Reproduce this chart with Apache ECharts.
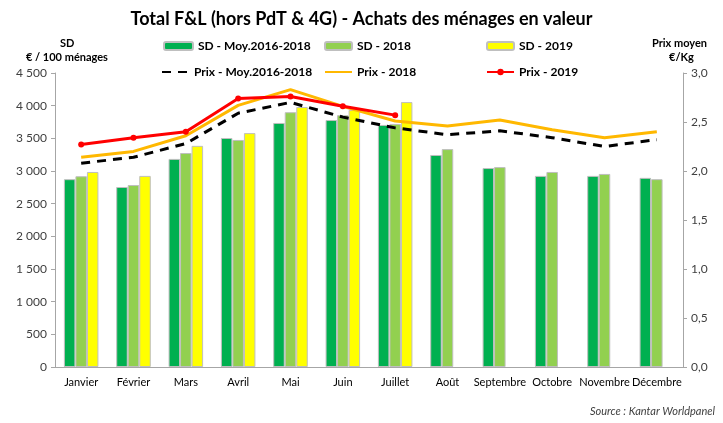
<!DOCTYPE html>
<html lang="fr">
<head>
  <meta charset="UTF-8">
  <title>Total F&L - Achats des ménages en valeur</title>
  <script src="https://cdn.jsdelivr.net/npm/echarts@6/dist/echarts.min.js"></script>
  <style>
    html, body { margin: 0; padding: 0; background: #fff; }
    #main { width: 723px; height: 423px; }
  </style>
</head>
<body>
  <div id="main"></div>
  <script>
    // données
    var mois = ["Janvier", "Février", "Mars", "Avril", "Mai", "Juin", "Juillet",
                "Août", "Septembre", "Octobre", "Novembre", "Décembre"];
    var sdMoy = [2875, 2755, 3185, 3505, 3735, 3780, 3705, 3245, 3045, 2925, 2925, 2895];
    var sd2018 = [2920, 2785, 3275, 3475, 3900, 3855, 3720, 3335, 3060, 2985, 2955, 2875];
    var sd2019 = [2985, 2925, 3385, 3580, 3980, 3935, 4055, null, null, null, null, null];
    var prixMoy = [2.08, 2.14, 2.28, 2.59, 2.70, 2.55, 2.44, 2.37, 2.41, 2.34, 2.25, 2.32];
    var prix2018 = [2.14, 2.20, 2.36, 2.67, 2.83, 2.66, 2.51, 2.46, 2.52, 2.42, 2.34, 2.40];
    var prix2019 = [2.27, 2.34, 2.40, 2.74, 2.76, 2.66, 2.57, null, null, null, null, null];
    var ticksSD = [0, 500, 1000, 1500, 2000, 2500, 3000, 3500, 4000, 4500];
    var ticksPrix = [0, 0.5, 1.0, 1.5, 2.0, 2.5, 3.0];

    var police = "Lato, 'Open Sans', sans-serif";
    var gris = "#A6A6A6";

    function fmtSD(v) {
      if (v < 1000) return String(v);
      var r = String(v % 1000);
      while (r.length < 3) r = "0" + r;
      return Math.floor(v / 1000) + " " + r;
    }
    function fmtPrix(v) { return v.toFixed(1).replace(".", ","); }

    // une légende par entrée pour garder les colonnes alignées
    function legende(nom, x, y, w, h, sansPoint) {
      var item = sansPoint ? { name: nom, itemStyle: { opacity: 0 } } : nom;
      return {
        data: [item], left: x, top: y, itemWidth: w, itemHeight: h,
        selectedMode: false, padding: 0,
        textStyle: { fontFamily: police, fontWeight: "bold", fontSize: 12, color: "#000" }
      };
    }

    var chart = echarts.init(document.getElementById("main"));
    var option = {
      animation: false,
      textStyle: { fontFamily: police },
      title: {
        text: "Total F&L (hors PdT & 4G) - Achats des ménages en valeur",
        left: "center", top: 5,
        textStyle: { fontFamily: police, fontWeight: "bold", fontSize: 18, color: "#000" }
      },
      legend: [
        legende("SD - Moy.2016-2018", 163, 40, 29, 8),
        legende("SD - 2018", 324, 40, 27, 8),
        legende("SD - 2019", 486, 40, 27, 8),
        legende("Prix - Moy.2016-2018", 161, 66, 27, 8, true),
        legende("Prix - 2018", 324, 66, 27, 8, true),
        legende("Prix - 2019", 486, 66, 27, 8)
      ],
      graphic: [
        { type: "text", left: 60, top: 38, style: { text: "SD", font: "bold 11px " + police, fill: "#000" } },
        { type: "text", left: 26, top: 52, style: { text: "€ / 100 ménages", font: "bold 11px " + police, fill: "#000" } },
        { type: "text", left: 652, top: 38, style: { text: "Prix moyen", font: "bold 11px " + police, fill: "#000" } },
        { type: "text", left: 669, top: 52, style: { text: "€/Kg", font: "bold 11px " + police, fill: "#000" } },
        { type: "text", right: 8, top: 406, style: { text: "Source : Kantar Worldpanel", font: "italic 11px " + police, fill: "#404040" } }
      ],
      grid: { left: 55, right: 40, top: 73, bottom: 56 },
      xAxis: {
        type: "category",
        data: mois,
        axisLine: { lineStyle: { color: gris } },
        axisTick: { length: 5, lineStyle: { color: gris } },
        axisLabel: { interval: 0, margin: 10, fontSize: 11, color: "#000", fontFamily: police }
      },
      yAxis: [
        {
          type: "value", min: ticksSD[0], max: ticksSD[ticksSD.length - 1], interval: 500,
          axisLine: { show: true, lineStyle: { color: gris } },
          axisTick: { show: true, length: 4, lineStyle: { color: gris } },
          splitLine: { show: false },
          axisLabel: { formatter: fmtSD, fontSize: 12, color: "#404040", margin: 8, fontFamily: police }
        },
        {
          type: "value", min: ticksPrix[0], max: ticksPrix[ticksPrix.length - 1], interval: 0.5,
          position: "right",
          axisLine: { show: true, lineStyle: { color: gris } },
          axisTick: { show: true, length: 4, lineStyle: { color: gris } },
          splitLine: { show: false },
          axisLabel: { formatter: fmtPrix, fontSize: 12, color: "#404040", margin: 8, fontFamily: police }
        }
      ],
      series: [
        {
          name: "SD - Moy.2016-2018", type: "bar", data: sdMoy, barGap: "0%", barCategoryGap: "34%",
          itemStyle: { color: "#00B050", borderColor: "#BFBFBF", borderWidth: 1 }
        },
        {
          name: "SD - 2018", type: "bar", data: sd2018,
          itemStyle: { color: "#92D050", borderColor: "#BFBFBF", borderWidth: 1 }
        },
        {
          name: "SD - 2019", type: "bar", data: sd2019,
          itemStyle: { color: "#FFFF00", borderColor: "#BFBFBF", borderWidth: 1 }
        },
        {
          name: "Prix - Moy.2016-2018", type: "line", yAxisIndex: 1, data: prixMoy,
          showSymbol: false, symbol: "none",
          lineStyle: { color: "#000", width: 3, type: [9, 7] },
          itemStyle: { color: "#000" }
        },
        {
          name: "Prix - 2018", type: "line", yAxisIndex: 1, data: prix2018,
          showSymbol: false, symbol: "none",
          lineStyle: { color: "#FFB800", width: 3 },
          itemStyle: { color: "#FFB800" }
        },
        {
          name: "Prix - 2019", type: "line", yAxisIndex: 1, data: prix2019,
          symbol: "circle", symbolSize: 6,
          lineStyle: { color: "#FF0000", width: 3 },
          itemStyle: { color: "#FF0000" }
        }
      ]
    };
    chart.setOption(option);
  </script>
</body>
</html>
